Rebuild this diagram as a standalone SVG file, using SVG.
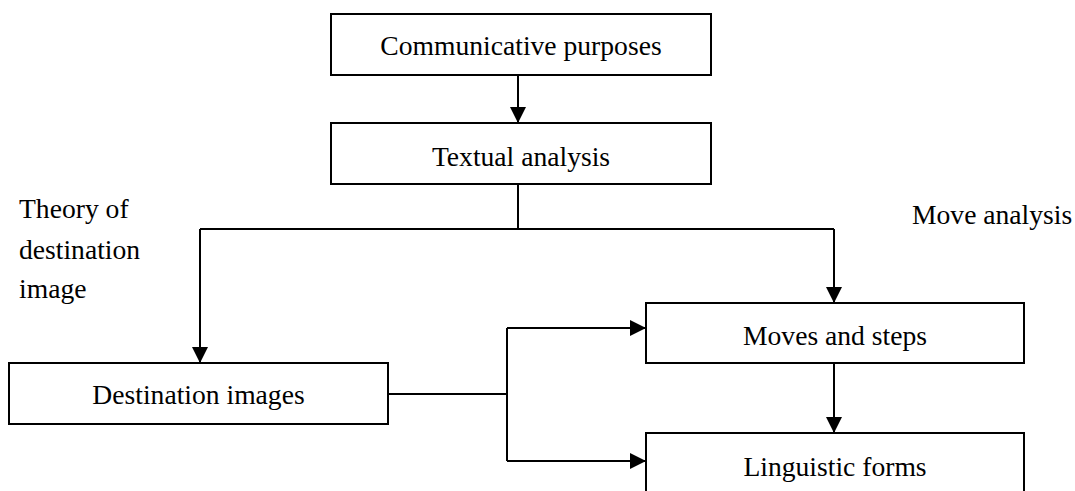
<svg xmlns="http://www.w3.org/2000/svg" width="1075" height="491" viewBox="0 0 1075 491">
  <defs>
    <marker id="arrow" markerUnits="userSpaceOnUse" markerWidth="16" markerHeight="16" viewBox="0 0 15 15" refX="15" refY="7.5" orient="auto">
      <path d="M0,0 L15,7.5 L0,15 z" fill="#000"/>
    </marker>
    <style>
      .box { fill: #fff; stroke: #000; stroke-width: 2; }
      .lbl { font-family: "Liberation Serif", "Times New Roman", serif; font-size: 27.6px; fill: #000; }
      .mid { text-anchor: middle; }
      .conn { fill: none; stroke: #000; stroke-width: 2; }
    </style>
  </defs>
  <rect width="1075" height="491" fill="#fff"/>

  <g id="connectors">
    <line class="conn" x1="518" y1="75" x2="518" y2="123" marker-end="url(#arrow)"/>
    <polyline class="conn" points="518,184 518,229"/>
    <polyline class="conn" points="200,229 834,229"/>
    <line class="conn" x1="200" y1="229" x2="200" y2="363" marker-end="url(#arrow)"/>
    <line class="conn" x1="834" y1="229" x2="834" y2="303" marker-end="url(#arrow)"/>
    <polyline class="conn" points="388,394 507,394"/>
    <polyline class="conn" points="507,328 507,461"/>
    <line class="conn" x1="507" y1="328" x2="646" y2="328" marker-end="url(#arrow)"/>
    <line class="conn" x1="507" y1="461" x2="646" y2="461" marker-end="url(#arrow)"/>
    <line class="conn" x1="834" y1="363" x2="834" y2="433" marker-end="url(#arrow)"/>
  </g>

  <g id="node-communicative">
    <rect class="box" x="331" y="14" width="380" height="61"/>
    <text class="lbl mid" x="521" y="55">Communicative purposes</text>
  </g>
  <g id="node-textual">
    <rect class="box" x="331" y="123" width="380" height="61"/>
    <text class="lbl mid" x="521" y="166">Textual analysis</text>
  </g>
  <g id="node-destination">
    <rect class="box" x="9" y="363" width="379" height="61"/>
    <text class="lbl mid" x="198.5" y="404">Destination images</text>
  </g>
  <g id="node-moves">
    <rect class="box" x="646" y="303" width="378" height="60"/>
    <text class="lbl mid" x="835" y="345">Moves and steps</text>
  </g>
  <g id="node-linguistic">
    <rect class="box" x="646" y="433" width="378" height="70"/>
    <text class="lbl mid" x="835" y="476">Linguistic forms</text>
  </g>

  <g id="label-theory">
    <text class="lbl" x="19" y="218">Theory of</text>
    <text class="lbl" x="19" y="259">destination</text>
    <text class="lbl" x="19" y="298">image</text>
  </g>
  <g id="label-move-analysis">
    <text class="lbl" x="912" y="224">Move analysis</text>
  </g>
</svg>
